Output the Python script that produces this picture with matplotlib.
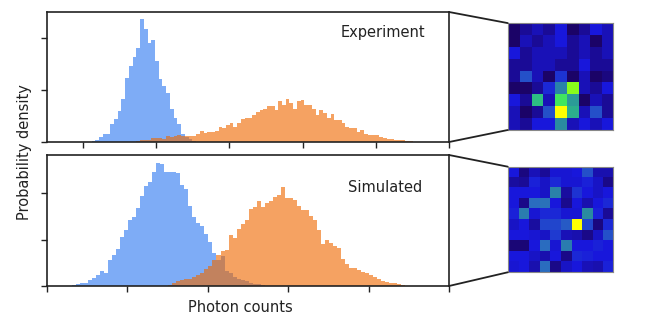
import numpy as np
import matplotlib
matplotlib.use("Agg")
import matplotlib.pyplot as plt
from matplotlib.colors import LinearSegmentedColormap
from matplotlib.patches import ConnectionPatch

# top panel (experiment): bin heights on a common grid, start offsets in bins
exp_bin_start = 0.118
exp_bin_width = 0.051
exp_bright = [0.02, 0.04, 0.10, 0.16, 0.16, 0.35, 0.45, 0.60, 0.83, 1.24, 1.46, 1.64, 1.80, 2.36,
              2.17, 1.91, 1.97, 1.56, 1.21, 1.08, 0.95, 0.63, 0.47, 0.34, 0.16, 0.10, 0.05, 0.02]
exp_dark_offset = 12
exp_dark = [0.02, 0.03, 0.04, 0.03, 0.08, 0.07, 0.07, 0.06, 0.12, 0.10, 0.11, 0.13, 0.12, 0.11,
            0.12, 0.12, 0.16, 0.21, 0.17, 0.20, 0.20, 0.22, 0.29, 0.26, 0.33, 0.36, 0.28, 0.37,
            0.44, 0.47, 0.47, 0.51, 0.58, 0.62, 0.63, 0.69, 0.70, 0.61, 0.79, 0.72, 0.83, 0.75,
            0.64, 0.79, 0.80, 0.71, 0.72, 0.64, 0.51, 0.61, 0.56, 0.47, 0.53, 0.42, 0.42, 0.37,
            0.29, 0.26, 0.26, 0.19, 0.24, 0.15, 0.13, 0.14, 0.14, 0.10, 0.08, 0.06, 0.05, 0.04,
            0.03, 0.03, 0.02, 0.01]

# bottom panel (simulated)
sim_bin_start = 0.158
sim_bin_width = 0.05
sim_bright = [0.01, 0.01, 0.01, 0.02, 0.04, 0.06, 0.06, 0.13, 0.18, 0.24, 0.32, 0.29, 0.57, 0.67,
              0.79, 1.05, 1.20, 1.43, 1.48, 1.68, 1.94, 2.16, 2.24, 2.46, 2.65, 2.63, 2.45, 2.45,
              2.45, 2.44, 2.17, 2.08, 1.73, 1.48, 1.35, 1.30, 1.13, 0.95, 0.72, 0.57, 0.65, 0.32,
              0.27, 0.20, 0.16, 0.13, 0.10, 0.07, 0.05, 0.04, 0.02, 0.01]
sim_dark_offset = 27
sim_dark = [0.02, 0.07, 0.10, 0.12, 0.14, 0.16, 0.19, 0.23, 0.29, 0.36, 0.44, 0.55, 0.66, 0.75,
            0.77, 1.10, 1.03, 1.23, 1.34, 1.43, 1.65, 1.70, 1.82, 1.71, 1.79, 1.82, 1.91, 1.96,
            2.13, 1.89, 1.89, 1.86, 1.73, 1.63, 1.63, 1.51, 1.41, 1.20, 0.90, 1.00, 0.93, 0.87,
            0.82, 0.59, 0.48, 0.39, 0.39, 0.34, 0.30, 0.27, 0.23, 0.19, 0.14, 0.10, 0.09, 0.07,
            0.06, 0.04, 0.02]

# single shot images
exp_image = [
    [0.05, 0.15, 0.22, 0.15, 0.30, 0.05, 0.15, 0.30, 0.22],
    [0.05, 0.22, 0.15, 0.22, 0.30, 0.15, 0.22, 0.05, 0.22],
    [0.30, 0.15, 0.22, 0.22, 0.22, 0.15, 0.22, 0.15, 0.22],
    [0.15, 0.15, 0.22, 0.22, 0.15, 0.15, 0.30, 0.15, 0.15],
    [0.15, 0.40, 0.22, 0.05, 0.35, 0.05, 0.22, 0.05, 0.10],
    [0.05, 0.05, 0.15, 0.33, 0.52, 0.88, 0.22, 0.15, 0.30],
    [0.30, 0.15, 0.65, 0.22, 0.75, 0.58, 0.05, 0.22, 0.15],
    [0.22, 0.05, 0.15, 0.40, 1.00, 0.62, 0.22, 0.40, 0.15],
    [0.22, 0.15, 0.30, 0.30, 0.55, 0.22, 0.30, 0.22, 0.30],
]
sim_image = [
    [0.30, 0.10, 0.22, 0.15, 0.28, 0.28, 0.30, 0.40, 0.20, 0.20],
    [0.17, 0.15, 0.32, 0.25, 0.33, 0.28, 0.28, 0.32, 0.25, 0.12],
    [0.30, 0.30, 0.30, 0.25, 0.52, 0.17, 0.35, 0.30, 0.25, 0.30],
    [0.30, 0.12, 0.45, 0.47, 0.30, 0.13, 0.30, 0.20, 0.30, 0.33],
    [0.32, 0.50, 0.28, 0.33, 0.33, 0.28, 0.28, 0.55, 0.32, 0.15],
    [0.25, 0.30, 0.17, 0.38, 0.38, 0.42, 1.00, 0.38, 0.10, 0.33],
    [0.30, 0.30, 0.28, 0.25, 0.36, 0.22, 0.20, 0.12, 0.25, 0.40],
    [0.08, 0.08, 0.30, 0.45, 0.28, 0.50, 0.30, 0.30, 0.32, 0.30],
    [0.30, 0.30, 0.25, 0.20, 0.30, 0.12, 0.33, 0.32, 0.30, 0.30],
    [0.28, 0.30, 0.20, 0.45, 0.12, 0.25, 0.30, 0.22, 0.20, 0.32],
]

BLUE = "#7eacf6"
ORANGE = "#f5a262"
BROWN = "#c2825e"

cmap = LinearSegmentedColormap.from_list("shot", [
    (0.0, "#1c0052"), (0.3, "#1818dc"), (0.45, "#2a6cc0"), (0.55, "#2a8ca0"),
    (0.72, "#30e070"), (0.87, "#7cfc20"), (1.0, "#ffff00")])


def draw_hist(ax, start, width, bright, dark, offset):
    n = max(len(bright), offset + len(dark))
    b = np.zeros(n)
    d = np.zeros(n)
    b[:len(bright)] = bright
    d[offset:offset + len(dark)] = dark
    x = start + width * np.arange(n)
    ax.bar(x, b, width=width, align="edge", color=BLUE, linewidth=0)
    ax.bar(x, d, width=width, align="edge", color=ORANGE, linewidth=0)
    ax.bar(x, np.minimum(b, d), width=width, align="edge", color=BROWN, linewidth=0)


def style(ax):
    for s in ax.spines.values():
        s.set_linewidth(1.2)
        s.set_color("#222222")
    ax.tick_params(length=4, width=1, labelbottom=False, labelleft=False, color="#222222")


fig = plt.figure(figsize=(6.53, 3.27), dpi=100)

ax1 = fig.add_axes([0.072, 0.5657, 0.6156, 0.3976])
draw_hist(ax1, exp_bin_start, exp_bin_width, exp_bright, exp_dark, exp_dark_offset)
ax1.set_xlim(-0.49, 5)
ax1.set_ylim(0, 2.5)
ax1.set_xticks([0, 1, 2, 3, 4, 5])
ax1.set_yticks([0, 1, 2])
style(ax1)
ax1.text(0.835, 0.84, "Experiment", transform=ax1.transAxes, ha="center", va="center",
         fontsize=10.5, color="#222222")

ax2 = fig.add_axes([0.072, 0.1254, 0.6156, 0.4006])
draw_hist(ax2, sim_bin_start, sim_bin_width, sim_bright, sim_dark, sim_dark_offset)
ax2.set_xlim(0, 5)
ax2.set_ylim(0, 2.82)
ax2.set_xticks([0, 1, 2, 3, 4, 5])
ax2.set_yticks([0, 1, 2])
style(ax2)
ax2.text(0.84, 0.75, "Simulated", transform=ax2.transAxes, ha="center", va="center",
         fontsize=10.5, color="#222222")

fig.text(240 / 653, 1 - 307 / 327, "Photon counts", ha="center", va="center",
         fontsize=10.5, color="#222222")
fig.text(25 / 653, 1 - 152 / 327, "Probability density", ha="center", va="center",
         rotation=90, fontsize=10.5, color="#222222")

im1 = fig.add_axes([0.7775, 0.6024, 0.1613, 0.327])
im1.imshow(np.array(exp_image), cmap=cmap, vmin=0, vmax=1, aspect="auto", interpolation="nearest")
im2 = fig.add_axes([0.7775, 0.1673, 0.1613, 0.323])
im2.imshow(np.array(sim_image), cmap=cmap, vmin=0, vmax=1, aspect="auto", interpolation="nearest")

for ax, im in [(ax1, im1), (ax2, im2)]:
    im.set_xticks([])
    im.set_yticks([])
    for s in im.spines.values():
        s.set_color("#888888")
        s.set_linewidth(0.8)
    for ya, yb in [(1, 1), (0, 0)]:
        con = ConnectionPatch(xyA=(1, ya), coordsA=ax.transAxes,
                              xyB=(0, yb), coordsB=im.transAxes,
                              color="#222222", linewidth=1.3)
        fig.add_artist(con)

fig.savefig("out.png", dpi=100)
